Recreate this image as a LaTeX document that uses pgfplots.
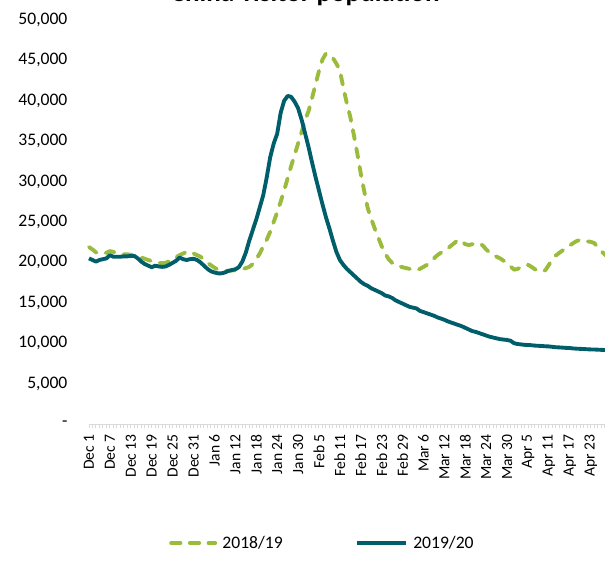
\documentclass[border=0pt]{standalone}
\usepackage{pgfplots}
\pgfplotsset{compat=1.18}
\usepackage{fontspec}
\setmainfont{Carlito}
\definecolor{cgreen}{RGB}{154,187,59}
\definecolor{cteal}{RGB}{0,94,107}
\definecolor{caxis}{RGB}{217,217,217}
\pgfplotsset{longleg/.style={legend image code/.code={\draw[##1] (0pt,0pt) -- (37pt,0pt);}}}
\begin{document}
\begin{tikzpicture}
\begin{axis}[
  at={(0,0)}, anchor=south west,
  scale only axis, width=397.2pt, height=303pt,
  xmin=0, xmax=152, ymin=0, ymax=50000,
  clip=false,
  scaled y ticks=false,
  axis x line*=bottom, axis y line*=left,
  x axis line style={draw=caxis, line width=0.75pt},
  y axis line style={draw=none},
  xtick={0,6,...,150},
  xticklabels={Dec 1,Dec 7,Dec 13,Dec 19,Dec 25,Dec 31,Jan 6,Jan 12,Jan 18,Jan 24,Jan 30,Feb 5,Feb 11,Feb 17,Feb 23,Feb 29,Mar 6,Mar 12,Mar 18,Mar 24,Mar 30,Apr 5,Apr 11,Apr 17,Apr 23,Apr 29},
  minor x tick num=5,
  x tick style={draw=caxis, line width=0.75pt},
  tick align=outside,
  major tick length=3pt, minor tick length=3pt,
  xticklabel style={rotate=90, anchor=east, inner sep=0pt, font=\fontsize{11.7}{14}\selectfont},
  xticklabel shift=4.5pt,
  ytick={0,5000,...,50000},
  yticklabels={{-\hspace{9pt}},{5,000},{10,000},{15,000},{20,000},{25,000},{30,000},{35,000},{40,000},{45,000},{50,000}},
  y tick style={draw=none},
  yticklabel style={anchor=east, inner sep=0pt, font=\fontsize{13.2}{15}\selectfont},
  yticklabel shift=13pt,
  title={China visitor population},
  title style={at={(axis description cs:0.408,1.0248)}, anchor=base, inner sep=0pt, font=\bfseries\fontsize{20.3}{24}\selectfont},
  legend columns=2,
  legend image code/.code={\draw[#1] (0pt,0pt) -- (33pt,0pt);},
  legend style={at={(axis description cs:0.151,-0.2946)}, anchor=west, draw=none, fill=none, inner sep=0pt,
    font=\fontsize{13.2}{15}\selectfont,
    nodes={inner sep=0pt},
    /tikz/every odd column/.append style={column sep=4pt},
    /tikz/every even column/.append style={column sep=54pt}},
]
\addplot[cgreen, line width=2.9pt, dash pattern=on 7pt off 7pt, line cap=round, line join=round] coordinates {
(0,21900)(1,21600)(2,21250)(3,21100)(4,21100)(5,21200)(6,21400)(7,21300)(8,21150)(9,21050)
(10,21000)(11,21000)(12,20950)(13,20850)(14,20750)(15,20600)(16,20450)(17,20300)(18,20150)(19,20050)
(20,19950)(21,19900)(22,19950)(23,20150)(24,20400)(25,20650)(26,20900)(27,21100)(28,21300)(29,21350)
(30,21100)(31,20900)(32,20700)(33,20350)(34,19950)(35,19650)(36,19350)(37,19100)(38,19000)(39,18950)
(40,18950)(41,19000)(42,19050)(43,19100)(44,19150)(45,19300)(46,19450)(47,19800)(48,20400)(49,21100)
(50,22000)(51,22800)(52,23800)(53,25000)(54,26200)(55,27500)(56,28900)(57,30400)(58,31900)(59,33300)
(60,34700)(61,36100)(62,37600)(63,38700)(64,40300)(65,42000)(66,43700)(67,45100)(68,45850)(69,45700)
(70,45300)(71,44600)(72,43800)(73,41600)(74,39700)(75,38000)(76,35800)(77,33500)(78,31000)(79,28800)
(80,26700)(81,25400)(82,24200)(83,23100)(84,22000)(85,21100)(86,20400)(87,19950)(88,19700)(89,19550)
(90,19400)(91,19300)(92,19200)(93,19100)(94,19060)(95,19200)(96,19450)(97,19700)(98,20100)(99,20500)
(100,20900)(101,21200)(102,21500)(103,21750)(104,22100)(105,22450)(106,22800)(107,22600)(108,22250)(109,22150)
(110,22250)(111,22350)(112,22350)(113,22100)(114,21600)(115,21200)(116,20900)(117,20700)(118,20500)(119,20200)
(120,19950)(121,19500)(122,19100)(123,19200)(124,19400)(125,19600)(126,19700)(127,19450)(128,19150)(129,18950)
(130,18850)(131,19050)(132,19700)(133,20400)(134,20850)(135,21200)(136,21500)(137,21800)(138,22100)(139,22400)
(140,22650)(141,22800)(142,22750)(143,22600)(144,22550)(145,22400)(146,21900)(147,21400)(148,21000)(149,20600)
(150,20200)
};
\addlegendentry{2018/19}
\addplot[cteal, line width=2.9pt, line join=round, longleg] coordinates {
(0,20500)(1,20300)(2,20100)(3,20300)(4,20400)(5,20500)(6,20900)(7,20700)(8,20700)(9,20700)
(10,20750)(11,20750)(12,20800)(13,20800)(14,20500)(15,20100)(16,19800)(17,19600)(18,19400)(19,19600)
(20,19500)(21,19450)(22,19500)(23,19700)(24,19950)(25,20200)(26,20600)(27,20400)(28,20300)(29,20400)
(30,20450)(31,20300)(32,20000)(33,19600)(34,19200)(35,18900)(36,18750)(37,18650)(38,18650)(39,18750)
(40,18950)(41,19050)(42,19150)(43,19400)(44,20100)(45,21200)(46,22700)(47,24000)(48,25300)(49,26800)
(50,28300)(51,30500)(52,33000)(53,34700)(54,35900)(55,38500)(56,40000)(57,40600)(58,40500)(59,39900)
(60,39100)(61,37700)(62,36000)(63,34300)(64,32400)(65,30600)(66,28900)(67,27200)(68,25600)(69,24200)
(70,22700)(71,21300)(72,20300)(73,19700)(74,19200)(75,18800)(76,18400)(77,18000)(78,17600)(79,17300)
(80,17100)(81,16800)(82,16600)(83,16400)(84,16200)(85,15900)(86,15800)(87,15600)(88,15300)(89,15100)
(90,14900)(91,14700)(92,14500)(93,14400)(94,14300)(95,14000)(96,13850)(97,13700)(98,13550)(99,13400)
(100,13200)(101,13050)(102,12900)(103,12700)(104,12550)(105,12400)(106,12250)(107,12100)(108,11900)(109,11700)
(110,11500)(111,11400)(112,11250)(113,11100)(114,10950)(115,10800)(116,10700)(117,10600)(118,10500)(119,10450)
(120,10400)(121,10300)(122,10000)(123,9900)(124,9850)(125,9800)(126,9780)(127,9750)(128,9700)(129,9680)
(130,9650)(131,9620)(132,9600)(133,9550)(134,9500)(135,9480)(136,9450)(137,9420)(138,9400)(139,9350)
(140,9320)(141,9300)(142,9280)(143,9250)(144,9230)(145,9220)(146,9200)(147,9180)(148,9160)(149,9140)
(150,9120)
};
\addlegendentry{2019/20}
\end{axis}
\pgfresetboundingbox
\useasboundingbox (-66.75pt,-111pt) rectangle (387pt,318pt);
\end{tikzpicture}
\end{document}
